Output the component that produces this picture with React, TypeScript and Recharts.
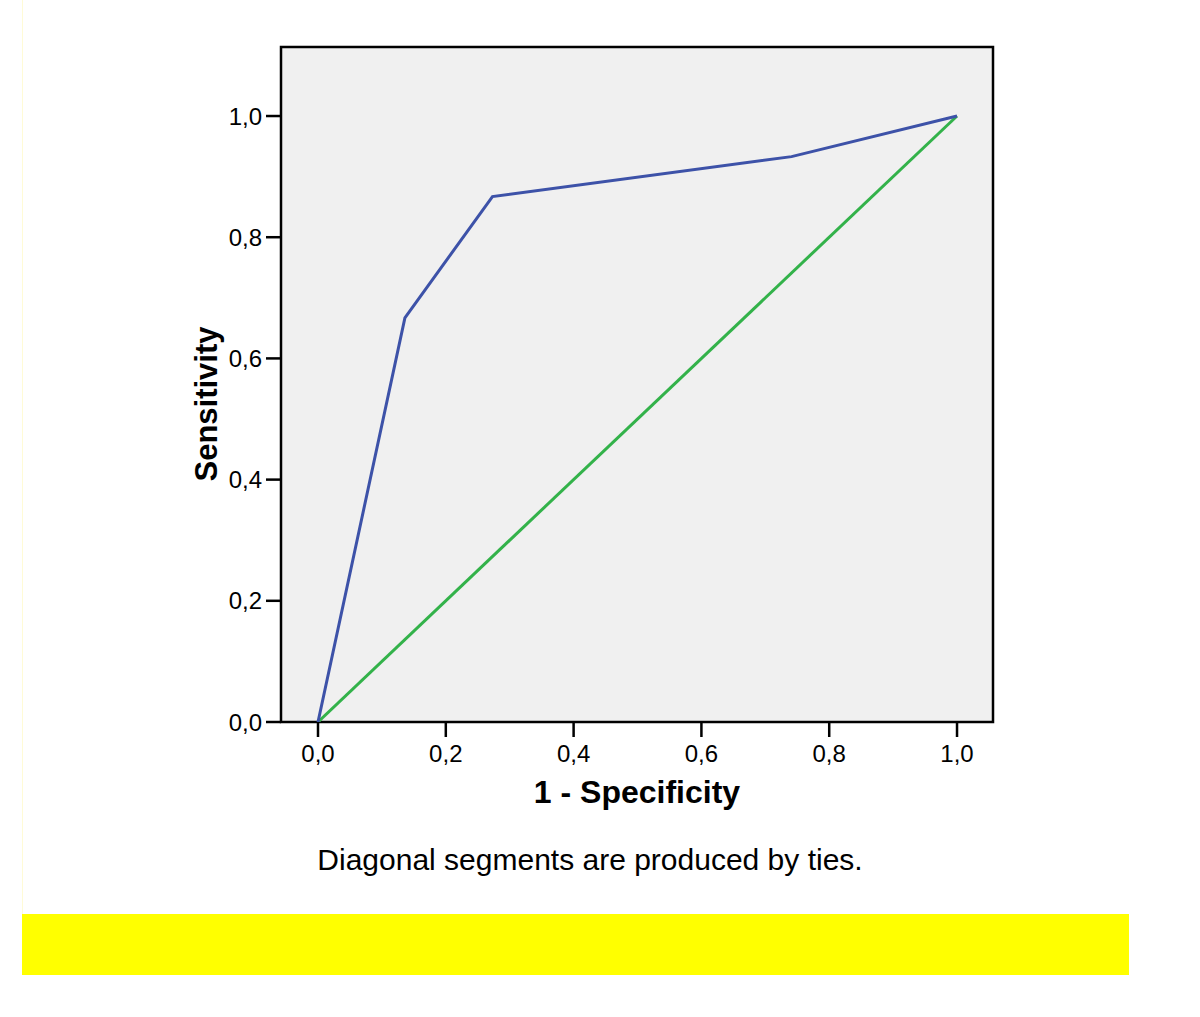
import React from 'react'
import {CartesianGrid, Line, LineChart, ReferenceArea, XAxis, YAxis} from 'recharts'

// ROC curve points (1 - specificity, sensitivity)
const fpr = [0, 0.136, 0.273, 0.741, 1]
const tpr = [0, 0.667, 0.867, 0.933, 1]
// reference diagonal
const diagX = [0, 1]
const diagY = [0, 1]
const tickValues = [0, 0.2, 0.4, 0.6, 0.8, 1]

const rocData = fpr.map((x, i) => ({x, y: tpr[i]}))
const diagData = diagX.map((x, i) => ({x, y: diagY[i]}))

const FONT = '"Liberation Sans", Arial, Helvetica, sans-serif'
const fmt = (v: number) => v.toFixed(1).replace('.', ',')

const X_DOMAIN: [number, number] = [-0.0579, 1.0563]
const Y_DOMAIN: [number, number] = [0, 1.1139]

const YTitle = (props: any) => {
  const vb = props.viewBox || {}
  const cx = vb.x + 36
  const cy = 404
  return (
    <text x={cx} y={cy} transform={`rotate(-90 ${cx} ${cy})`} textAnchor="middle"
      fontFamily={FONT} fontWeight="bold" fontSize={31} fill="#000">Sensitivity</text>
  )
}

export default function App() {
  return (
    <div style={{position: 'absolute', left: 0, top: 0, width: 1200, height: 1017, background: '#fff', fontFamily: FONT}}>
      <div style={{position: 'absolute', left: 22, top: 0, width: 1, height: 914, background: '#fffbd6'}} />
      <div style={{position: 'absolute', left: 0, top: 0}}>
        <LineChart width={1200} height={1017} margin={{top: 47, right: 207, bottom: 205, left: 181}}>
          <CartesianGrid horizontal={false} vertical={false} fill="#f0f0f0" />
          <XAxis type="number" dataKey="x" domain={X_DOMAIN} ticks={tickValues} allowDataOverflow
            tickFormatter={fmt} height={90} axisLine={false} tickSize={15} tickMargin={8}
            tickLine={{stroke: '#000', strokeWidth: 2.5}}
            tick={{fill: '#000', fontSize: 24, fontFamily: FONT}}
            label={{value: '1 - Specificity', position: 'insideBottom', offset: 9, fill: '#000', fontSize: 32, fontWeight: 'bold', fontFamily: FONT}} />
          <YAxis type="number" dataKey="y" domain={Y_DOMAIN} ticks={tickValues} allowDataOverflow
            tickFormatter={fmt} width={100} axisLine={false} tickSize={15} tickMargin={4}
            tickLine={{stroke: '#000', strokeWidth: 2.5}}
            tick={{fill: '#000', fontSize: 24, fontFamily: FONT}}
            label={<YTitle />} />
          <ReferenceArea x1={X_DOMAIN[0]} x2={X_DOMAIN[1]} y1={Y_DOMAIN[0]} y2={Y_DOMAIN[1]}
            ifOverflow="visible" fill="none" fillOpacity={0} stroke="#000" strokeWidth={2.5} />
          <Line data={diagData} dataKey="y" type="linear" stroke="#33b24a" strokeWidth={3}
            dot={false} activeDot={false} isAnimationActive={false} />
          <Line data={rocData} dataKey="y" type="linear" stroke="#3d52a8" strokeWidth={3}
            dot={false} activeDot={false} isAnimationActive={false} />
        </LineChart>
      </div>
      <div style={{position: 'absolute', left: 0, width: 1180, top: 844, textAlign: 'center', fontSize: 30, color: '#000', lineHeight: '32px'}}>
        Diagonal segments are produced by ties.
      </div>
      <div style={{position: 'absolute', left: 22, top: 914, width: 1107, height: 61, background: '#ffff00'}} />
    </div>
  )
}
